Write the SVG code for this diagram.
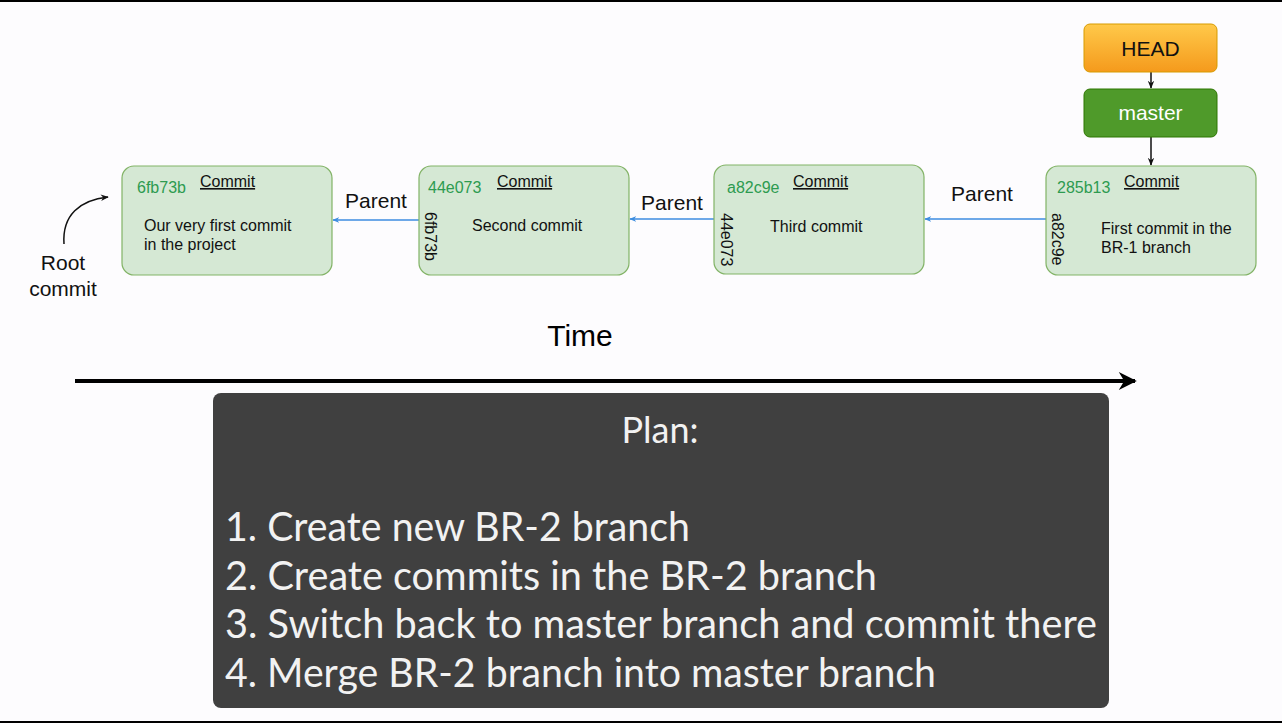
<svg xmlns="http://www.w3.org/2000/svg" width="1282" height="723" viewBox="0 0 1282 723">
<style>
.commit{fill:#d5e8d4;stroke:#82b366;stroke-width:1.2}
.hash{font-family:"Liberation Sans",Arial,sans-serif;font-size:16px;fill:#2d9b50}
.title{font-family:"Liberation Sans",Arial,sans-serif;font-size:16px;fill:#111;text-decoration:underline}
.body{font-family:"Liberation Sans",Arial,sans-serif;font-size:16px;fill:#111}
.vert{font-family:"Liberation Sans",Arial,sans-serif;font-size:16px;fill:#111}
.lbl{font-family:"Liberation Sans",Arial,sans-serif;font-size:21px;fill:#111}
.blue{stroke:#3c8de0;stroke-width:1.5;fill:none}
.blk{stroke:#111;stroke-width:1.5;fill:none}
.plan{font-family:Lato,"Open Sans",sans-serif;fill:#f2f2f2}
</style>
<defs>
<marker id="ab" viewBox="0 0 10 10" refX="9" refY="5" markerWidth="7" markerHeight="7" orient="auto" markerUnits="userSpaceOnUse"><path d="M0,1 L10,5 L0,9 L3,5 z" fill="#3c8de0"/></marker>
<marker id="ak" viewBox="0 0 10 10" refX="9" refY="5" markerWidth="8" markerHeight="8" orient="auto" markerUnits="userSpaceOnUse"><path d="M0,1 L10,5 L0,9 L3,5 z" fill="#111"/></marker>
<marker id="abig" viewBox="0 0 10 10" refX="9" refY="5" markerWidth="22" markerHeight="18" orient="auto" markerUnits="userSpaceOnUse"><path d="M0,0 L10,5 L0,10 L3,5 z" fill="#000"/></marker>
<linearGradient id="og" x1="0" y1="0" x2="0" y2="1"><stop offset="0" stop-color="#ffc94a"/><stop offset="1" stop-color="#f59a1c"/></linearGradient>
</defs>
<rect width="1282" height="723" fill="#fdfcfe"/>
<rect x="0" y="0" width="1282" height="2" fill="#000"/>
<rect x="0" y="721" width="1282" height="2" fill="#000"/>

<g id="connectors">
<line class="blue" x1="419" y1="220" x2="333" y2="220" marker-end="url(#ab)"/>
<line class="blue" x1="714" y1="219" x2="630" y2="219" marker-end="url(#ab)"/>
<line class="blue" x1="1046" y1="219" x2="925" y2="219" marker-end="url(#ab)"/>
<line class="blk" x1="1151" y1="72" x2="1151" y2="88" marker-end="url(#ak)"/>
<line class="blk" x1="1151" y1="137" x2="1151" y2="165" marker-end="url(#ak)"/>
<path class="blk" d="M64,244 C62,215 80,200 108,197" marker-end="url(#ak)"/>
<text class="lbl" x="376" y="208" text-anchor="middle">Parent</text>
<text class="lbl" x="672" y="210" text-anchor="middle">Parent</text>
<text class="lbl" x="982" y="201" text-anchor="middle">Parent</text>
</g>

<g id="commit1">
<rect class="commit" x="122" y="166" width="210" height="109" rx="12"/>
<text class="hash" x="137" y="193">6fb73b</text>
<text class="title" x="200" y="187">Commit</text>
<text class="body" x="144" y="231">Our very first commit</text>
<text class="body" x="144" y="250">in the project</text>
</g>
<g id="commit2">
<rect class="commit" x="419" y="166" width="210" height="109" rx="12"/>
<text class="hash" x="428" y="193">44e073</text>
<text class="title" x="497" y="187">Commit</text>
<text class="body" x="472" y="231">Second commit</text>
<text class="vert" transform="translate(425,212) rotate(90)">6fb73b</text>
</g>
<g id="commit3">
<rect class="commit" x="714" y="165" width="210" height="109" rx="12"/>
<text class="hash" x="727" y="193">a82c9e</text>
<text class="title" x="793" y="187">Commit</text>
<text class="body" x="770" y="232">Third commit</text>
<text class="vert" transform="translate(721,213) rotate(90)">44e073</text>
</g>
<g id="commit4">
<rect class="commit" x="1046" y="166" width="210" height="109" rx="12"/>
<text class="hash" x="1057" y="193">285b13</text>
<text class="title" x="1124" y="187">Commit</text>
<text class="body" x="1101" y="234">First commit in the</text>
<text class="body" x="1101" y="253">BR-1 branch</text>
<text class="vert" transform="translate(1052,213) rotate(90)">a82c9e</text>
</g>
<g id="head">
<rect x="1084" y="24" width="133" height="48" rx="6" fill="url(#og)" stroke="#d79b00" stroke-width="1"/>
<text x="1150.5" y="56" text-anchor="middle" font-family="Liberation Sans,Arial,sans-serif" font-size="21" fill="#111">HEAD</text>
</g>
<g id="master">
<rect x="1084" y="89" width="133" height="48" rx="6" fill="#4f9a2a" stroke="#2d7600" stroke-width="1"/>
<text x="1150.5" y="120" text-anchor="middle" font-family="Liberation Sans,Arial,sans-serif" font-size="21" fill="#fff">master</text>
</g>
<g id="root">
<text class="lbl" x="63" y="270" text-anchor="middle">Root</text>
<text class="lbl" x="63" y="296" text-anchor="middle">commit</text>
</g>
<g id="time">
<text x="580" y="346" text-anchor="middle" font-family="Liberation Sans,Arial,sans-serif" font-size="30" fill="#000">Time</text>
<line x1="75" y1="381" x2="1135" y2="381" stroke="#000" stroke-width="4" marker-end="url(#abig)"/>
</g>
<g id="plan">
<rect x="213" y="393" width="896" height="315" rx="8" fill="#404040"/>
<text class="plan" x="660" y="443" text-anchor="middle" font-size="37" textLength="77" lengthAdjust="spacingAndGlyphs">Plan:</text>
<text class="plan" x="225" y="541" font-size="40" textLength="465" lengthAdjust="spacingAndGlyphs">1. Create new BR-2 branch</text>
<text class="plan" x="225" y="590" font-size="40" textLength="652" lengthAdjust="spacingAndGlyphs">2. Create commits in the BR-2 branch</text>
<text class="plan" x="225" y="638" font-size="40" textLength="872" lengthAdjust="spacingAndGlyphs">3. Switch back to master branch and commit there</text>
<text class="plan" x="225" y="687" font-size="40" textLength="711" lengthAdjust="spacingAndGlyphs">4. Merge BR-2 branch into master branch</text>
</g>
</svg>
